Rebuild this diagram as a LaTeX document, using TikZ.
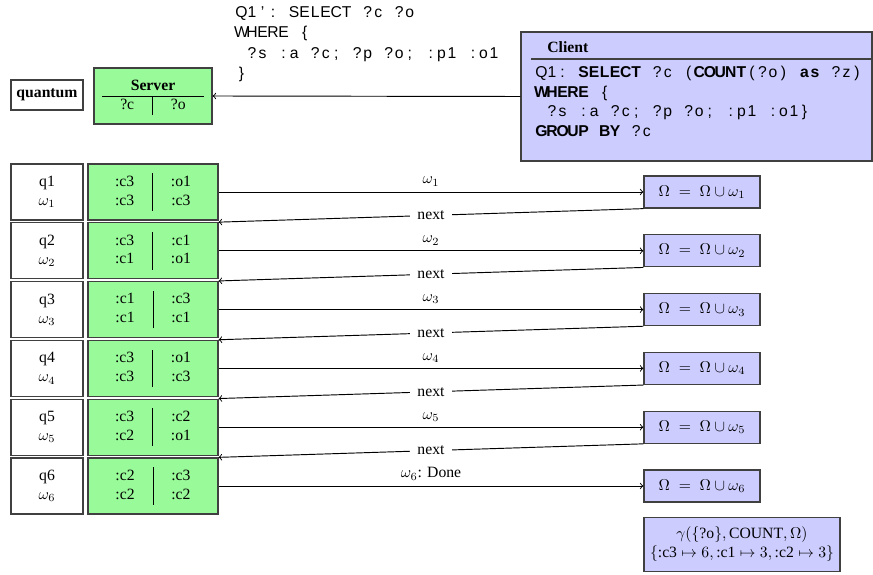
\documentclass[tikz,border=0pt]{standalone}
\usepackage[no-math]{fontspec}
\setmainfont{Liberation Serif}
\setsansfont{Liberation Sans}
\usetikzlibrary{fit}

\definecolor{srvgreen}{RGB}{153,250,153}
\definecolor{cltblue}{RGB}{204,204,255}
\setlength{\tabcolsep}{11.7pt}
% fixed columns, one box per character (~ is a blank column)
\newcommand\qcols[1]{\qcolsloop#1\relax}
\def\qcolsloop#1{\ifx#1\relax\else\makebox[6.7pt]{#1}\expandafter\qcolsloop\fi}
\newcommand\qkey[1]{{\bfseries\qcols{#1}}}

\begin{document}
\begin{tikzpicture}[x=0.637pt, y=-0.637pt,
	wbox/.style={draw=black!75, thick, fill=white, inner sep=0pt},
	qbox/.style={wbox, align=center, minimum width=45.9pt, minimum height=35.7pt},
	gbox/.style={draw=black!75, thick, fill=srvgreen, inner sep=0pt, minimum width=82.8pt, minimum height=35.7pt},
	obox/.style={draw=black!75, thick, fill=cltblue, inner sep=0pt, minimum width=73.9pt, minimum height=20.4pt},
	qtext/.style={font=\sffamily, align=left, inner sep=0pt, anchor=north west},
	conn/.style={->, semithick},
	nxt/.style={fill=white, inner xsep=5pt, inner ysep=1pt}]
\useasboundingbox (0,0) rectangle (873,575);
\node[wbox, minimum width=45.9pt, minimum height=19.1pt] (quantum) at (47,95) {\textbf{quantum}};
\node[gbox, minimum width=75.2pt] (server) at (153,96)
	{\begin{tabular}{c|c}\multicolumn{2}{c}{\textbf{Server}}\\\hline ?c & ?o\end{tabular}};
\node[qtext] (subquery) at (236,6) {\qcols{Q1':~SELECT~?c~?o}\\[1pt]
	\qcols{WHERE~\{}\\[1pt]
	\qcols{~?s~:a~?c;~?p~?o;~:p1~:o1}\\[1pt]
	\qcols{\}}};
\node[draw=black!75, thick, fill=cltblue, inner sep=0pt, fit={(521,32) (872,161)}] (client) {};
\node[anchor=west, inner sep=0pt] (ctitle) at (547,47) {\textbf{Client}};
\draw[black!75, thick] (531,59) -- (872,59);
\node[qtext] (query) at (536,66) {\qcols{Q1:~}\qkey{SELECT}\qcols{~?c~(}\qkey{COUNT}\qcols{(?o)~}\qkey{as}\qcols{~?z)}\\[0.5pt]
	\qkey{WHERE}\qcols{~\{}\\[0.5pt]
	\qcols{~?s~:a~?c;~?p~?o;~:p1~:o1\}}\\[0.5pt]
	\qkey{GROUP~BY}\qcols{~?c}};
\draw[conn] (client.west) -- (server.east);
% one row per quantum
\foreach \i/\ca/\oa/\cb/\ob in {1/c3/o1/c3/c3, 2/c3/c1/c1/o1, 3/c1/c3/c1/c1,
		4/c3/o1/c3/c3, 5/c3/c2/c2/o1, 6/c2/c3/c2/c2} {
	\node[qbox] (q\i) at (47,{192+58.8*(\i-1)}) {q\i\\$\omega_{\i}$};
	\node[gbox] (g\i) at (153,{192+58.8*(\i-1)})
		{\begin{tabular}{c|c}:\ca & :\oa\\ :\cb & :\ob\end{tabular}};
	\node[obox] (o\i) at (702,{192+58.8*(\i-1)}) {$\Omega \;=\; \Omega \cup \omega_{\i}$};
}
\foreach \i in {1,...,5} {
	\pgfmathtruncatemacro\j{\i+1}
	\draw[conn] (g\i) -- node[above]{$\omega_{\i}$} (o\i);
	\draw[conn] (o\i.south west) -- node[nxt]{next} (g\j.north east);
}
\draw[conn] (g6) -- node[above]{$\omega_6$: Done} (o6);
\node[obox, minimum width=124.9pt, minimum height=34.4pt, align=center, anchor=north west] (gamma)
	at ([yshift=-8.9pt]o6.south west)
	{$\gamma(\{\textrm{?o}\}, \textrm{COUNT}, \Omega)$\\
	$\{\textrm{:c3} \mapsto 6, \textrm{:c1} \mapsto 3, \textrm{:c2} \mapsto 3\}$};
\end{tikzpicture}
\end{document}
